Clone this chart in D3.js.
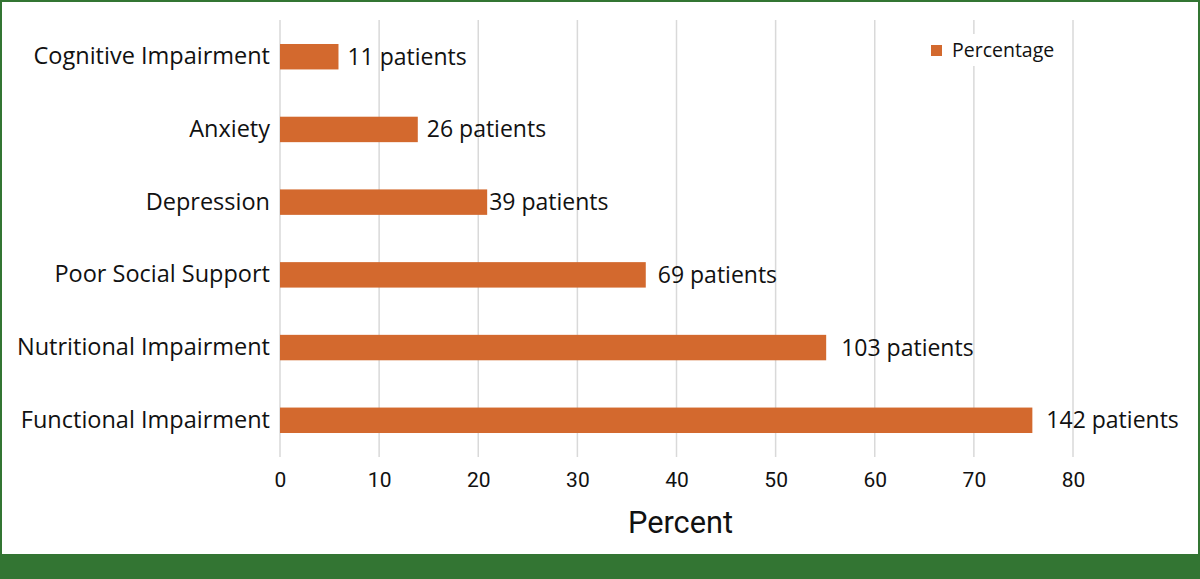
<!DOCTYPE html>
<html>
<head>
<meta charset="utf-8">
<script src="https://cdn.jsdelivr.net/npm/d3@7"></script>
<style>
  body { margin: 0; background: #fff; }
  svg { display: block; }
</style>
</head>
<body>
<script>
// share of 187 patients with each impairment
var categories = ["Cognitive Impairment", "Anxiety", "Depression", "Poor Social Support", "Nutritional Impairment", "Functional Impairment"];
var percentages = [5.9, 13.9, 20.9, 36.9, 55.1, 75.9];
var patientLabels = ["11 patients", "26 patients", "39 patients", "69 patients", "103 patients", "142 patients"];
var xTicks = [0, 10, 20, 30, 40, 50, 60, 70, 80];
var seriesName = "Percentage";

// gap between bar end and its label (they are hand placed in the original)
var labelNudge = [9, 9, 2, 12, 15, 14];

var width = 1200, height = 579;
var barColor = "#d3692e";
var green = "#337533";
var textFont = "'Open Sans', sans-serif";

var svg = d3.select("body")
    .append("svg")
    .attr("width", width)
    .attr("height", height);

// frame
svg.append("rect")
    .attr("x", 0).attr("y", 0)
    .attr("width", width).attr("height", height)
    .attr("fill", green);
svg.append("rect")
    .attr("x", 2).attr("y", 2)
    .attr("width", width - 4).attr("height", 552)
    .attr("fill", "white");

var x = d3.scaleLinear()
    .domain([0, 80])
    .range([280, 1073]);

var y = d3.scaleBand()
    .domain(categories)
    .range([20, 457])
    .paddingInner(0.65)
    .paddingOuter(0.33);

// gridlines
svg.append("g")
    .selectAll("line")
    .data(xTicks)
    .join("line")
    .attr("x1", d => x(d)).attr("x2", d => x(d))
    .attr("y1", 20).attr("y2", 457)
    .attr("stroke", "#d9d9d9")
    .attr("stroke-width", 1.5);

// x axis labels
var xAxis = svg.append("g")
    .attr("transform", "translate(0,457)")
    .call(d3.axisBottom(x).tickValues(xTicks).tickSize(0).tickPadding(15));
xAxis.select(".domain").remove();
xAxis.selectAll("text")
    .attr("font-family", "Roboto, sans-serif")
    .attr("font-size", 21)
    .attr("fill", "#111");

svg.append("text")
    .attr("x", 628)
    .attr("y", 533)
    .attr("font-family", "Roboto, sans-serif")
    .attr("font-size", 31)
    .attr("textLength", 105)
    .attr("lengthAdjust", "spacingAndGlyphs")
    .attr("fill", "#111")
    .text("Percent");

// y axis labels
var yAxis = svg.append("g")
    .attr("transform", "translate(280,0)")
    .call(d3.axisLeft(y).tickSize(0).tickPadding(10));
yAxis.select(".domain").remove();
yAxis.selectAll("text")
    .attr("font-family", textFont)
    .attr("font-size", 23.5)
    .attr("fill", "#111");

// bars
svg.append("g")
    .selectAll("rect")
    .data(percentages)
    .join("rect")
    .attr("x", x(0))
    .attr("y", (d, i) => y(categories[i]))
    .attr("width", d => x(d) - x(0))
    .attr("height", y.bandwidth())
    .attr("fill", barColor);

// value labels
svg.append("g")
    .selectAll("text")
    .data(percentages)
    .join("text")
    .attr("x", (d, i) => x(d) + labelNudge[i])
    .attr("y", (d, i) => y(categories[i]) + y.bandwidth() / 2)
    .attr("dy", "0.35em")
    .attr("font-family", textFont)
    .attr("font-size", 23)
    .attr("fill", "#111")
    .text((d, i) => patientLabels[i]);

// legend
var legend = svg.append("g").attr("transform", "translate(924,34)");
legend.append("rect")
    .attr("width", 140).attr("height", 32)
    .attr("fill", "white");
legend.append("rect")
    .attr("x", 7).attr("y", 11)
    .attr("width", 11).attr("height", 11)
    .attr("fill", barColor);
legend.append("text")
    .attr("x", 28).attr("y", 16)
    .attr("dy", "0.35em")
    .attr("font-family", textFont)
    .attr("font-size", 19.5)
    .attr("fill", "#111")
    .text(seriesName);
</script>
</body>
</html>
